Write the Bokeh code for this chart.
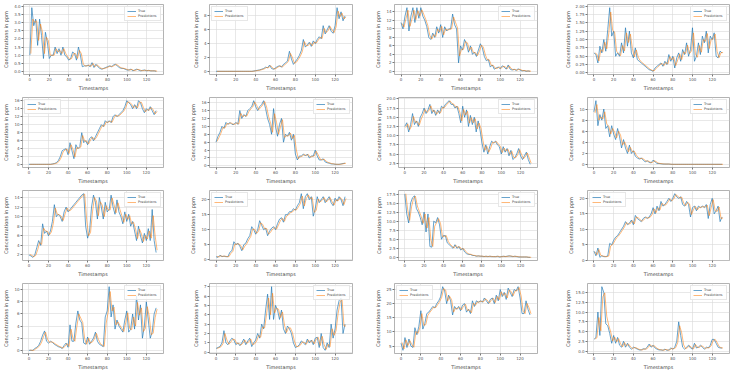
from bokeh.plotting import figure
from bokeh.layouts import column, row
from bokeh.models import Range1d
from bokeh.embed import file_html
from bokeh.resources import INLINE

# Concentration series sampled every second timestamp (true values and model predictions)
TRUE_1 = [1.0,3.9,2.8,3.2,1.6,3.2,2.2,0.8,2.4,1.8,0.8,1.0,1.0,1.5,1.1,1.4,1.0,1.5,1.0,0.9,0.7,0.8,1.2,1.1,0.7,1.5,1.0,0.3,0.35,0.35,0.4,0.3,0.55,0.25,0.45,0.3,0.2,0.15,0.2,0.25,0.3,0.35,0.3,0.4,0.45,0.35,0.25,0.2,0.2,0.15,0.1,0.1,0.15,0.05,0.1,0.15,0.1,0.05,0.08,0.1,0.05,0.08,0.05,0.05,0.05,0.02]
PRED_1 = [1.1,3.2,3.0,3.1,1.9,2.9,2.4,1.1,2.1,1.9,1.0,1.0,1.0,1.4,1.2,1.3,1.1,1.4,1.1,0.9,0.75,0.8,1.1,1.1,0.8,1.3,1.1,0.45,0.35,0.35,0.4,0.32,0.5,0.3,0.42,0.32,0.22,0.17,0.2,0.24,0.29,0.34,0.31,0.38,0.44,0.37,0.27,0.21,0.2,0.16,0.11,0.1,0.14,0.07,0.09,0.14,0.11,0.06,0.07,0.09,0.06,0.07,0.05,0.05,0.05,0.03]

TRUE_2 = [0,0,0,0,0,0,0,0,0,0,0,0,0,0,0,0,0,0,0.0,0.05,0.1,0.15,0.2,0.3,0.4,0.6,0.5,0.9,0.4,0.3,0.5,0.7,0.8,0.6,1.0,1.2,1.5,2.9,1.8,1.0,1.4,1.8,2.3,3.0,4.6,3.5,3.8,4.2,3.6,4.4,4.0,4.6,5.0,4.7,6.6,5.4,6.0,6.6,5.8,5.5,6.6,9.2,7.6,8.6,7.3,8.0]
PRED_2 = [0,0,0,0,0,0,0,0,0,0,0,0,0,0,0,0,0,0,0.0,0.04,0.09,0.14,0.19,0.28,0.38,0.56,0.52,0.82,0.5,0.32,0.46,0.66,0.78,0.64,0.92,1.16,1.44,2.6,2.0,1.16,1.32,1.72,2.2,2.85,4.3,3.7,3.74,4.12,3.7,4.24,4.08,4.5,4.92,4.76,6.2,5.6,5.9,6.48,5.96,5.6,6.4,8.7,7.9,8.4,7.56,7.86]

TRUE_3 = [11.5,10,13,15,9.5,13,15,11.5,15,12.5,15,13,12,10.5,8,7.5,9,8,10.5,9,11,8,10.5,9.5,10,10,13.5,11,10,2.0,6,5,7.5,6.5,4.5,6,4,4.5,3.5,5,6.5,5.5,3.5,2.5,2.8,1.0,1.5,0.5,0.8,1.0,0.6,1.3,1.0,0.5,1.5,0.5,0.3,0.5,0.2,0.6,0.3,0.1,0.2,0.0,0.1,0.0]
PRED_3 = [11.3,10.4,12.4,14.4,10.6,12.3,14.4,12.2,14.3,13,14.5,13.4,12.2,10.8,8.5,7.6,8.7,8.2,10,9.3,10.6,8.6,10,9.7,9.9,10,12.8,11.5,10.2,3.6,5.2,5.2,7,6.7,4.9,5.7,4.4,4.4,3.7,4.7,6.2,5.7,3.9,2.7,2.7,1.4,1.4,0.7,0.7,1.0,0.7,1.2,1.1,0.6,1.3,0.7,0.35,0.45,0.25,0.5,0.35,0.15,0.18,0.05,0.08,0.02]

TRUE_4 = [0.6,0.55,0.3,0.8,0.6,1.0,0.65,1.3,1.95,1.1,1.25,0.5,0.6,0.5,0.9,0.6,1.35,0.8,1.25,0.6,0.45,0.75,0.4,0.35,0.3,0.25,0.2,0.15,0.1,0.08,0.05,0.15,0.2,0.25,0.3,0.2,0.35,0.25,0.55,0.35,0.5,0.15,0.45,0.6,0.35,0.7,0.55,0.9,0.5,0.7,1.35,0.35,0.5,0.9,0.55,1.1,0.9,1.25,0.6,1.1,1.0,1.2,0.5,0.45,0.65,0.6]
PRED_4 = [0.6,0.56,0.36,0.7,0.64,0.92,0.72,1.17,1.82,1.27,1.22,0.65,0.58,0.52,0.82,0.66,1.2,0.91,1.16,0.73,0.48,0.69,0.47,0.36,0.31,0.26,0.21,0.16,0.11,0.08,0.06,0.13,0.19,0.24,0.29,0.22,0.32,0.27,0.49,0.39,0.47,0.22,0.39,0.57,0.4,0.63,0.58,0.83,0.58,0.66,1.2,0.55,0.47,0.82,0.62,1.0,0.94,1.18,0.73,1.0,1.02,1.16,0.64,0.46,0.61,0.61]

TRUE_5 = [0.1,0.1,0.1,0.1,0.1,0.1,0.1,0.1,0.1,0.1,0.1,0.1,0.2,0.3,0.5,1.0,2.0,3.5,3.8,4.0,2.5,5.5,3.5,1.5,5.0,4.0,4.5,8.0,5.5,6.0,5.0,6.5,7.0,6.0,7.0,8.0,9.0,10.0,9.5,11.0,10.5,11.0,10.5,12.0,12.5,12.0,12.5,13.0,13.5,14.5,16.0,15.5,15.0,14.0,15.0,14.0,16.0,15.5,14.0,13.0,14.0,13.5,14.5,13.5,12.5,13.5]
PRED_5 = [0.1,0.1,0.1,0.1,0.1,0.1,0.1,0.1,0.1,0.1,0.1,0.1,0.18,0.28,0.45,0.9,1.8,3.2,3.7,3.9,2.8,5.0,3.9,1.9,4.3,4.1,4.4,7.3,5.9,5.9,5.2,6.2,6.9,6.2,6.8,7.8,8.8,9.8,9.6,10.7,10.6,10.9,10.6,11.7,12.4,12.1,12.4,12.9,13.4,14.3,15.7,15.6,15.1,14.2,14.8,14.2,15.6,15.6,14.3,13.2,13.8,13.6,14.3,13.7,12.7,13.3]

TRUE_6 = [6,7.5,8.5,10,9.5,11,10.5,11,10.5,10.5,11,10.5,14,12,13,12.5,14,14.5,15,16.5,15,14,15,15.5,16.5,14.5,12,10.5,8,14.5,10,7.5,10.5,12,6,8,7.5,8.5,6.5,8,3,1.5,2.5,2.5,3,2.5,3,2,2.5,2.5,4,2.5,1.5,1.5,1.8,1.0,0.8,0.7,0.5,0.5,0.4,0.4,0.4,0.5,0.6,0.7]
PRED_6 = [6.2,7.2,8.3,9.7,9.6,10.7,10.6,10.9,10.6,10.5,10.9,10.6,13.3,12.4,12.8,12.6,13.7,14.4,14.9,16.2,15.3,14.2,14.8,15.4,16.3,14.9,12.5,10.8,8.5,13.2,11,8.0,9.9,11.7,7.2,7.6,7.6,8.3,6.9,7.7,4.0,1.8,2.3,2.5,2.9,2.6,2.9,2.2,2.4,2.5,3.7,2.8,1.7,1.5,1.7,1.2,0.85,0.72,0.55,0.5,0.42,0.4,0.4,0.48,0.58,0.68]

TRUE_7 = [12.5,13.5,11,13,16,13,14,12.5,15,16,17.5,16,17,18.5,16,17,15.5,17,16,18,17.5,18.5,19,19.5,18.5,18.5,17.5,18,16,13.5,18,15,17,12.5,15.5,13,15,11,14,11.5,8,5.5,7.5,5,7,8.5,8,8.5,7.5,7,5,7,5.5,6.5,4.5,6,3.5,4,5,6.5,4.5,3.5,4.5,5.5,3.5,2.2]
PRED_7 = [12.2,13.2,11.6,12.6,15.2,13.6,13.8,12.8,14.5,15.7,17.1,16.3,16.8,18.1,16.5,16.8,15.8,16.7,16.2,17.6,17.6,18.3,18.9,19.4,18.7,18.5,17.7,17.9,16.4,14.0,17.1,15.6,16.6,13.4,14.9,13.5,14.6,11.8,13.4,11.9,8.7,6.0,7.1,5.5,6.6,8.2,8.1,8.4,7.7,7.1,5.4,6.6,5.8,6.3,4.9,5.7,4.0,4.0,4.8,6.2,4.9,3.7,4.3,5.3,3.9,2.5]

TRUE_8 = [9.5,11.5,7,9,8,10,6.5,7,5,7,5.5,4.5,6.5,5,3,4.5,3,2,3.5,2,2.5,1.5,1.2,1.0,1.2,0.8,0.5,0.7,0.4,0.3,0.8,0.5,0.2,0.2,0.15,0.1,0.1,0.1,0.1,0.05,0.05,0.05,0.05,0.05,0.05,0.05,0.05,0.05,0.05,0.05,0.05,0.05,0.05,0.05,0.05,0.05,0.05,0.05,0.05,0.05,0.05,0.05,0.05,0.05,0.05,0.05]
PRED_8 = [9.3,10.8,8.0,8.6,8.2,9.5,7.3,6.9,5.5,6.5,5.8,4.8,6.0,5.3,3.5,4.1,3.3,2.3,3.1,2.3,2.4,1.7,1.3,1.05,1.15,0.9,0.6,0.65,0.45,0.32,0.7,0.55,0.28,0.2,0.16,0.12,0.1,0.1,0.1,0.06,0.05,0.05,0.05,0.05,0.05,0.05,0.05,0.05,0.05,0.05,0.05,0.05,0.05,0.05,0.05,0.05,0.05,0.05,0.05,0.05,0.05,0.05,0.05,0.05,0.05,0.05]

TRUE_9 = [2,1.8,1.5,2,3.5,5,4,8.5,6.5,7,6,7,9,12.5,10,10.5,10,9,11,12,11,11.5,12,12.5,13,13.5,14,14.5,14.8,8,5.5,7,12,14.5,13,9.5,14,12,9.5,13,11,11.5,14.5,12,10.5,13.5,11,10,8.5,11,9,10.5,8,9,7,5,8,6,4.5,6.5,5,7.5,5,11.5,5,2.5]
PRED_9 = [2.1,1.9,1.6,1.9,3.1,4.6,4.2,7.6,7.0,6.9,6.2,6.8,8.6,11.8,10.5,10.4,10.1,9.2,10.6,11.8,11.2,11.4,11.9,12.4,12.9,13.4,13.9,14.4,14.7,9.4,6.0,6.7,11.0,14.0,13.3,10.2,13.1,12.4,10.0,12.3,11.4,11.4,13.9,12.5,10.8,12.9,11.5,10.2,8.8,10.5,9.4,10.2,8.5,8.8,7.4,5.4,7.4,6.4,4.8,6.1,5.3,7.0,5.5,10.2,6.0,3.0]

TRUE_10 = [1,0.8,1.5,1,1.2,1.0,1.0,2.5,3,6,5,5.5,4.5,3,5,5.5,7,8,11,10,8.5,10,13,11.5,10,10.5,8,9.5,10.5,11,10,12,13.5,14,12.5,15,15,16,16,17,16.5,18,19,22,17,21,22,20,21,14.5,17,21,19,20,21,19,20,21,19,18,20.5,19.5,21,20,18,21]
PRED_10 = [1.1,0.9,1.3,1.1,1.2,1.05,1.0,2.1,2.8,5.2,5.2,5.3,4.7,3.3,4.5,5.3,6.6,7.7,10.2,10.1,8.8,9.6,12.3,11.8,10.3,10.4,8.5,9.2,10.2,10.8,10.2,11.6,13.1,13.8,12.8,14.5,14.9,15.7,15.9,16.7,16.6,17.6,18.7,21.2,17.9,20.4,21.6,20.3,20.7,15.8,16.4,20.2,19.3,19.8,20.7,19.3,19.8,20.7,19.3,18.2,20.0,19.6,20.7,20.1,18.4,20.4]

TRUE_11 = [17.5,12,9.5,15,16.5,17,13.5,12.5,11,9,12.5,7,12,3,2.8,10,9.5,11,9,5,6,6,4,3.5,3,2.5,3.5,2.5,3,2,2.5,1.5,1,0.8,0.8,0.5,0.5,0.3,0.4,0.3,0.3,0.2,0.3,0.2,0.3,0.2,0.2,0.2,0.3,0.1,0.2,0.3,0.2,0.3,0.4,0.3,0.2,0.3,0.2,0.1,0.1,0.1,0.1,0.1,0.0,0.0]
PRED_11 = [17.6,13.1,10.2,14.0,16.2,16.9,14.2,12.7,11.3,9.4,12.0,8.1,11.0,4.8,3.0,8.6,9.6,10.7,9.4,5.8,5.8,6.0,4.4,3.6,3.1,2.6,3.3,2.7,2.9,2.2,2.4,1.7,1.1,0.85,0.8,0.56,0.5,0.34,0.38,0.32,0.3,0.22,0.28,0.22,0.28,0.22,0.2,0.2,0.28,0.14,0.18,0.28,0.22,0.28,0.38,0.32,0.22,0.28,0.22,0.12,0.1,0.1,0.1,0.1,0.02,0.0]

TRUE_12 = [3,1.5,4,1,1.5,1.2,1.2,1.5,5.5,5,6.5,7.5,8,9,10,11,12.5,11.5,12,13,11.5,14.5,13.5,13,12.5,13.5,14,13.5,14,15,17,15,17.5,16,19,17.5,18,19,20,19,20,21.5,20.5,20,20.5,18,17.5,19,18,14,17,17.5,16,17.5,17,17.5,17,18,13.5,18,20,15,16,17.5,12.5,14]
PRED_12 = [2.8,1.8,3.5,1.6,1.4,1.3,1.2,1.4,4.7,5.1,6.2,7.3,7.9,8.8,9.8,10.8,12.2,11.7,11.9,12.8,11.8,14.0,13.7,13.1,12.6,13.3,13.9,13.6,13.9,14.8,16.6,15.4,17.0,16.3,18.4,17.8,17.9,18.8,19.8,19.2,19.8,21.2,20.7,20.1,20.4,18.5,17.6,18.7,18.2,14.8,16.4,17.4,16.3,17.2,17.1,17.4,17.1,17.8,14.4,17.1,19.6,16.0,15.8,17.2,13.5,13.7]

TRUE_13 = [0,0,0,0.3,0.5,0.8,1.5,2.5,3.2,1.5,1.2,1.5,1.3,1.0,0.8,0.6,0.5,0.3,0.8,1.2,0.5,4.2,1.5,1.5,4.5,6.5,5,4.5,1.2,1.0,2.2,1.0,1.5,2,3,1.5,1.0,0.8,0.6,5.5,6.5,10.5,5.5,7.5,3.5,5,4,3.5,3.0,5,6.5,3,3.5,6,3.5,9,5,7.5,2,4,8,5,2,3,6,7]
PRED_13 = [0.05,0,0,0.25,0.45,0.75,1.35,2.3,3.0,1.8,1.3,1.4,1.3,1.05,0.85,0.65,0.52,0.35,0.7,1.1,0.65,3.5,2.0,1.5,3.9,6.0,5.3,4.6,1.9,1.0,2.0,1.2,1.4,1.9,2.8,1.8,1.1,0.85,0.65,4.5,6.3,9.7,6.5,7.1,4.2,4.7,4.1,3.6,3.1,4.6,6.2,3.6,3.4,5.5,4.0,7.9,5.8,7.0,3.1,3.6,7.2,5.6,2.6,2.8,5.4,6.8]

TRUE_14 = [0.4,0.5,0.6,1.0,2.3,1.0,0.8,1.2,1.5,1.3,0.8,1.0,0.7,1.0,1.4,0.8,1.2,1.5,0.6,1.0,1.3,2.0,1.5,3.0,2.5,4.5,6.2,3.5,7.0,3.5,5.0,4.5,3.5,4.5,2.5,2.0,2.8,2.5,2.0,1.0,0.5,0.6,0.8,1.2,1.0,0.8,1.4,1.0,1.3,0.8,1.5,1.6,0.5,2.0,0.5,0.2,1.0,0.5,3.0,1.5,2.5,4.5,5.5,5.8,2.0,3.0]
PRED_14 = [0.4,0.48,0.58,0.9,2.0,1.3,0.85,1.1,1.4,1.35,0.9,0.95,0.75,0.95,1.3,0.95,1.1,1.4,0.8,0.9,1.2,1.8,1.6,2.7,2.6,4.1,5.8,4.0,6.3,4.2,4.7,4.6,3.7,4.3,2.9,2.1,2.6,2.6,2.1,1.2,0.6,0.6,0.75,1.1,1.05,0.85,1.3,1.1,1.25,0.9,1.4,1.6,0.7,1.7,0.8,0.3,0.85,0.6,2.5,1.8,2.3,4.1,5.3,5.7,2.8,2.8]

TRUE_15 = [6,3.5,8,4.5,7.5,5,4.5,11.5,9,12,17.5,11,13,16.5,17,18,19,18.5,20,21,22.5,26,24.5,20,23,21,16,19,18,19,17.5,19.5,20,17,18,16.5,21,19,21,20.5,21,20.5,22,21,20,21.5,22,20,23,21,25,22.5,24,21.5,25.5,24,22.5,25,24.5,26,22,16.5,16.5,21,18,16]
PRED_15 = [6.3,4.0,7.2,5.2,6.9,5.5,4.6,10.2,9.5,11.4,16.5,12.3,12.6,15.8,16.9,17.8,18.8,18.6,19.7,20.8,22.2,25.3,24.8,20.9,22.6,21.4,17.0,18.4,18.2,18.8,17.8,19.1,19.8,17.6,17.8,16.8,20.2,19.4,20.6,20.6,20.9,20.6,21.7,21.2,20.2,21.2,21.9,20.4,22.6,21.4,24.2,22.9,23.7,22.0,24.8,24.3,22.8,24.5,24.6,25.7,22.8,17.6,16.5,20.1,18.6,16.4]

TRUE_16 = [3,3.5,10,4,16.5,15,7,6.5,4.5,2,4,2,3.5,1.5,1.0,2.5,1.0,2.0,1.0,0.5,1.0,0.8,0.5,0.3,0.3,0.6,0.5,1.0,1.8,1.0,1.5,0.8,0.5,0.3,0.3,0.2,0.5,0.2,0.3,0.8,0.5,1.0,2.5,7.5,4,1.0,0.5,1.0,1.5,0.8,0.5,2.0,0.8,1.0,1.5,1.0,0.5,1.0,0.8,1.5,3.0,3.0,2.0,1.0,0.8,0.8]
PRED_16 = [3.1,3.4,8.6,5.2,13.9,14.9,8.9,6.6,4.9,2.6,3.6,2.4,3.2,1.9,1.1,2.2,1.3,1.8,1.2,0.6,0.9,0.84,0.56,0.34,0.3,0.54,0.52,0.9,1.6,1.2,1.4,0.94,0.56,0.34,0.3,0.22,0.44,0.26,0.28,0.7,0.56,0.9,2.2,6.5,4.7,1.6,0.6,0.9,1.4,0.94,0.56,1.7,1.0,0.96,1.4,1.1,0.6,0.9,0.84,1.4,2.7,3.0,2.2,1.2,0.84,0.8]

TRUE = [TRUE_1, TRUE_2, TRUE_3, TRUE_4, TRUE_5, TRUE_6, TRUE_7, TRUE_8,
        TRUE_9, TRUE_10, TRUE_11, TRUE_12, TRUE_13, TRUE_14, TRUE_15, TRUE_16]
PRED = [PRED_1, PRED_2, PRED_3, PRED_4, PRED_5, PRED_6, PRED_7, PRED_8,
        PRED_9, PRED_10, PRED_11, PRED_12, PRED_13, PRED_14, PRED_15, PRED_16]

# y tick positions and decimals per panel
Y_TICKS = [
    [0, 0.5, 1, 1.5, 2, 2.5, 3, 3.5, 4],
    [0, 2, 4, 6, 8],
    [0, 2, 4, 6, 8, 10, 12, 14],
    [0, 0.25, 0.5, 0.75, 1, 1.25, 1.5, 1.75, 2],
    [0, 2, 4, 6, 8, 10, 12, 14, 16],
    [0, 2, 4, 6, 8, 10, 12, 14, 16],
    [2.5, 5, 7.5, 10, 12.5, 15, 17.5, 20],
    [0, 2, 4, 6, 8, 10],
    [2, 4, 6, 8, 10, 12, 14],
    [0, 5, 10, 15, 20],
    [0, 2.5, 5, 7.5, 10, 12.5, 15, 17.5],
    [0, 5, 10, 15, 20],
    [0, 2, 4, 6, 8, 10],
    [0, 1, 2, 3, 4, 5, 6, 7],
    [5, 10, 15, 20, 25],
    [0, 2.5, 5, 7.5, 10, 12.5, 15],
]
Y_DECIMALS = [1, 0, 0, 2, 0, 0, 1, 0, 0, 0, 1, 0, 0, 0, 0, 1]
X_TICKS = [0, 20, 40, 60, 80, 100, 120]
LEGEND_POS = ["top_right", "top_left", "top_right", "top_right",
              "top_left", "top_right", "top_right", "top_right",
              "top_right", "top_left", "top_right", "top_left",
              "top_right", "top_right", "top_left", "top_right"]

BLUE = "#1f77b4"
ORANGE = "#ff7f0e"
FONT = "DejaVu Sans"

COL_W = [186, 186, 188, 178]
COL_LEFT = [20, 23, 22, 27]
COL_RIGHT = [23, 20, 23, 9]
ROW_H = 93


def panel(i):
    r, c = divmod(i, 4)
    t_true, t_pred = TRUE[i], PRED[i]
    xs_true = list(range(0, 2 * len(t_true), 2))
    xs_pred = list(range(1, 2 * len(t_pred) + 1, 2))
    lo = min(min(t_true), min(t_pred))
    hi = max(max(t_true), max(t_pred))
    pad = (hi - lo) * 0.05
    xmax = max(xs_pred[-1], xs_true[-1])
    xpad = xmax * 0.05
    p = figure(width=COL_W[c], height=ROW_H, output_backend="svg", toolbar_location=None,
               x_range=Range1d(-xpad, xmax + xpad), y_range=Range1d(lo - pad, hi + pad),
               min_border_left=COL_LEFT[c], min_border_right=COL_RIGHT[c],
               min_border_top=4, min_border_bottom=17)
    p.background_fill_color = "white"
    p.border_fill_color = "white"
    p.outline_line_color = "#a0a0a0"
    p.outline_line_width = 0.8

    p.line(xs_true, t_true, color=BLUE, line_width=0.8, line_alpha=0.85, legend_label="True")
    p.line(xs_pred, t_pred, color=ORANGE, line_width=0.8, line_alpha=0.7,
           legend_label="Predictions")

    fmt = "{:.%df}" % Y_DECIMALS[i]
    p.yaxis.ticker = Y_TICKS[i]
    p.yaxis.major_label_overrides = {t: fmt.format(t) for t in Y_TICKS[i]}
    p.xaxis.ticker = X_TICKS

    for ax in (p.xaxis, p.yaxis):
        ax.axis_line_color = None
        ax.major_tick_out = 2
        ax.major_tick_in = 0
        ax.major_tick_line_color = "#777777"
        ax.minor_tick_line_color = None
        ax.major_label_text_font = FONT
        ax.major_label_text_font_size = "4px"
        ax.major_label_text_color = "#555555"
        ax.major_label_standoff = 1
        ax.axis_label_text_font = FONT
        ax.axis_label_text_font_style = "normal"
        ax.axis_label_text_color = "#444444"
        ax.axis_label_standoff = 2
    p.xaxis.axis_label = "Timestamps"
    p.xaxis.axis_label_text_font_size = "4.8px"
    p.yaxis.axis_label = "Concentrations in ppm"
    p.yaxis.axis_label_text_font_size = "5px"

    p.grid.grid_line_color = "#d8d8d8"
    p.grid.grid_line_width = 0.6

    lg = p.legend[0]
    lg.location = LEGEND_POS[i]
    lg.label_text_font = FONT
    lg.label_text_font_size = "3.4px"
    lg.label_text_color = "#444444"
    lg.label_height = 4
    lg.label_standoff = 2
    lg.glyph_height = 4
    lg.glyph_width = 9
    lg.spacing = 1
    lg.padding = 2
    lg.margin = 2
    lg.border_line_color = "#d0d0d0"
    lg.border_line_width = 0.5
    lg.background_fill_alpha = 0.85
    return p


panels = [panel(i) for i in range(16)]
layout = column(*[row(*panels[r * 4:(r + 1) * 4]) for r in range(4)])

open("out.html", "w").write(file_html(layout, INLINE))
